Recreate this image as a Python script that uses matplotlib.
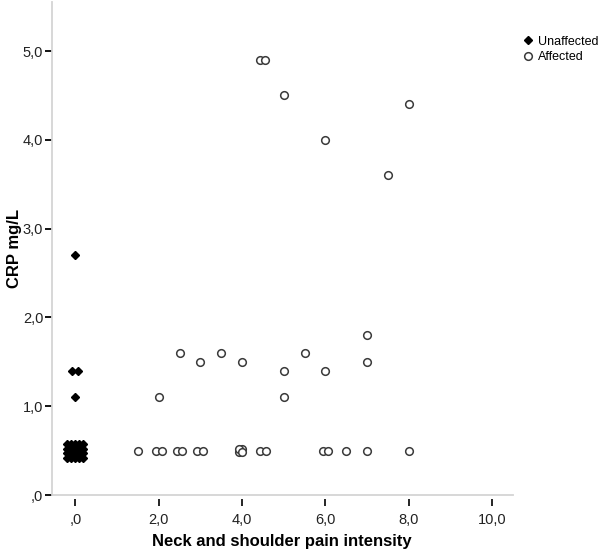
import matplotlib
matplotlib.use('Agg')
from matplotlib import pyplot as plt
from matplotlib.ticker import FuncFormatter

# Unaffected group (pain intensity 0), the block at 0.5 is a jittered stack
unaff_x = [-0.21, -0.11, -0.01, 0.08, 0.18,
           -0.21, -0.11, -0.01, 0.08, 0.18,
           -0.21, -0.11, -0.01, 0.08, 0.18,
           -0.21, -0.11, -0.01, 0.08, 0.18,
           0.0, -0.07, 0.06, 0.0]
unaff_y = [0.57, 0.57, 0.57, 0.57, 0.57,
           0.52, 0.52, 0.52, 0.52, 0.52,
           0.47, 0.47, 0.47, 0.47, 0.47,
           0.42, 0.42, 0.42, 0.42, 0.42,
           2.7, 1.4, 1.4, 1.1]

# Affected group
aff_x = [4.44, 4.56, 5.0, 6.0, 8.0, 7.5,
         2.5, 3.5, 5.5, 7.0, 3.0, 4.0, 7.0, 5.0, 6.0, 2.0, 5.0,
         1.5, 1.93, 2.07, 2.44, 2.56, 2.93, 3.07, 3.93, 3.99, 3.93, 3.99,
         4.44, 4.58, 5.93, 6.05, 6.5, 7.0, 8.0]
aff_y = [4.9, 4.9, 4.5, 4.0, 4.4, 3.6,
         1.6, 1.6, 1.6, 1.8, 1.5, 1.5, 1.5, 1.4, 1.4, 1.1, 1.1,
         0.5, 0.5, 0.5, 0.5, 0.5, 0.5, 0.5, 0.48, 0.52, 0.52, 0.48,
         0.5, 0.5, 0.5, 0.5, 0.5, 0.5, 0.5]

x_ticks = [0, 2, 4, 6, 8, 10]
y_ticks = [0, 1, 2, 3, 4, 5]


def spss_fmt(v, pos):
    s = f"{v:.1f}".replace('.', ',')
    if s.startswith('0,'):
        s = s[1:]
    return s


def main():
    plt.rcParams['font.family'] = ['Liberation Sans', 'DejaVu Sans']

    fig = plt.figure(figsize=(6.0, 5.51), dpi=100)
    ax = fig.add_axes([0.086, 0.1016, 0.769, 0.8944])

    ax.plot(unaff_x, unaff_y, linestyle='none', marker='D', markersize=4.3,
            color='black', label='Unaffected')
    ax.plot(aff_x, aff_y, linestyle='none', marker='o', markersize=5.5,
            markerfacecolor='white', markeredgecolor='#3a3a3a',
            markeredgewidth=1.1, label='Affected')

    ax.set_xlim(-0.57, 10.5)
    ax.set_ylim(0, 5.55)
    ax.set_xticks(x_ticks)
    ax.set_yticks(y_ticks)
    ax.xaxis.set_major_formatter(FuncFormatter(spss_fmt))
    ax.yaxis.set_major_formatter(FuncFormatter(spss_fmt))

    for side in ['top', 'right']:
        ax.spines[side].set_visible(False)
    ax.spines['left'].set_color('#d4d4d4')
    ax.spines['left'].set_linewidth(1.3)
    # bottom spine pushed down so the x ticks float below the axis line
    ax.spines['bottom'].set_position(('outward', 3))
    ax.spines['bottom'].set_color('none')
    ax.axhline(0, color='#d4d4d4', linewidth=1.3, clip_on=False, zorder=0)

    ax.tick_params(axis='y', direction='out', length=5, width=1.3,
                   color='black', labelsize=10.5, labelcolor='#222222', pad=1)
    ax.tick_params(axis='x', direction='out', length=5, width=1.2,
                   color='black', labelsize=10.5, labelcolor='#222222', pad=5)

    ax.set_xlabel('Neck and shoulder pain intensity', fontsize=12,
                  fontweight='bold', labelpad=5)
    ax.set_ylabel('CRP mg/L', fontsize=12, fontweight='bold', labelpad=1)

    fig.legend(loc='upper left', bbox_to_anchor=(0.871, 0.935), frameon=False,
               fontsize=9, handlelength=0.8, handletextpad=0.4,
               labelspacing=0.25, borderaxespad=0, borderpad=0)

    fig.savefig('out.png', dpi=100)


if __name__ == '__main__':
    main()
